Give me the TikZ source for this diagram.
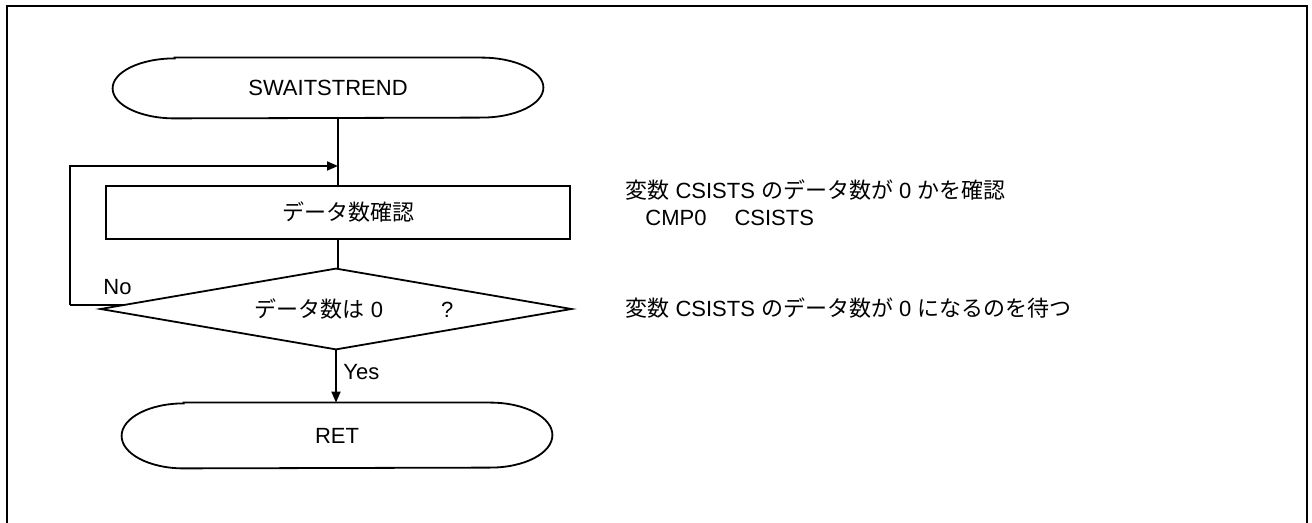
\documentclass[tikz,border=0pt]{standalone}
\usepackage{fontspec}
\setmainfont{Liberation Sans}
\newfontfamily\jp{Noto Sans CJK JP}
\usetikzlibrary{arrows.meta}
\tikzset{
  line/.style={line width=0.9pt},
  arr/.style={line, -{Triangle[length=5.5pt,width=4.5pt]}},
  term/.style={draw=none, inner sep=0pt, font=\fontsize{11pt}{13pt}\selectfont},
  procbox/.style={draw, line, rectangle, inner sep=0pt, font=\fontsize{11pt}{13pt}\selectfont},
  decbox/.style={draw=none, rectangle, inner sep=0pt, font=\fontsize{11pt}{13pt}\selectfont},
  note/.style={anchor=west, inner sep=0pt, font=\fontsize{11pt}{13pt}\selectfont},
}
\newcommand{\termoutline}[3]{%
  \draw[line] ([xshift=#2]#1.north west) -- ([xshift=-#2]#1.north east)
    arc[start angle=90, end angle=-90, x radius=#2, y radius=#3]
    -- ([xshift=#2]#1.south west)
    arc[start angle=270, end angle=90, x radius=#2, y radius=#3] -- cycle;}
\begin{document}
\begin{tikzpicture}[x=0.5pt,y=-0.5pt]
\useasboundingbox (0,0) rectangle (1312,523);
\draw[line width=1.2pt] (7,530) |- (1307,6) -- (1307,530);

\node[term, minimum width=215pt, minimum height=30pt] (start) at (328,88) {SWAITSTREND};
\termoutline{start}{31pt}{15pt}

\node[procbox, minimum width=232pt, minimum height=26.5pt] (chk) at (338,212.5) {\hspace{10pt}{\jp データ数確認}};

\node[decbox, minimum width=235pt, minimum height=40pt] (dec) at (336,309) {\hspace{18pt}{\jp データ数は} 0\hspace{29pt}?};
\draw[line] (dec.north) -- (dec.east) -- (dec.south) -- (dec.west) -- cycle;

\node[term, minimum width=215pt, minimum height=32.5pt] (ret) at (337,435.5) {RET};
\termoutline{ret}{31pt}{16.25pt}

\coordinate (join) at (338,166);
\coordinate (loopc) at (70,305);

\draw[line] (start.south -| chk.north) -- (chk.north);
\draw[line] (chk.south) -- (chk.south |- dec.north);
\draw[line] ([shift={(24,-4)}]dec.west) -- (loopc);
\draw[arr] (loopc) |- (join);
\draw[arr] (dec.south) -- (dec.south |- ret.north);

\node[note] (no) at (103,287) {No};
\node[note] (yes) at (343,372) {Yes};

\node[note] (n1) at (625,190) {{\jp 変数} CSISTS {\jp のデータ数が} 0 {\jp かを確認}};
\node[note] (n2) at (645,218) {CMP0\hspace{14pt}CSISTS};
\node[note] (n3) at (625,308) {{\jp 変数} CSISTS {\jp のデータ数が} 0 {\jp になるのを待つ}};
\end{tikzpicture}
\end{document}
